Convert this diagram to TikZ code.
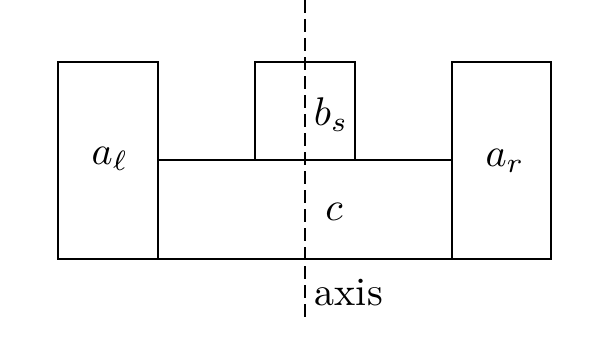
\documentclass[tikz,border=0pt]{standalone}
\begin{document}
\begin{tikzpicture}[x=1pt,y=-1pt,
  wall/.style={line width=2.6pt,line join=miter},
  axisline/.style={line width=2.6pt,dash pattern=on 13pt off 6pt},
  lbl/.style={inner sep=0pt,scale=4}]
\useasboundingbox[fill=white] (0,0) rectangle (601,337);
% left block a_l
\draw[wall] (58,62) rectangle (158,259);
% right block a_r
\draw[wall] (452,62) rectangle (551,259);
% top block b_s
\draw[wall] (255,62) rectangle (355,160);
% middle block c
\draw[wall] (158,160) -- (452,160);
\draw[wall] (158,259) -- (452,259);
% axis
\coordinate (atop) at (305,0);
\coordinate (abot) at (305,318);
\draw[axisline] (atop) -- (abot);
% labels
\node[lbl] (al) at (110,159) {$a_\ell$};
\node[lbl] (ar) at (505,161) {$a_r$};
\node[lbl] (bs) at (331,115) {$b_s$};
\node[lbl] (c) at (334,212) {$c$};
\node[lbl,anchor=base west] (ax) at (314,305) {axis};
\end{tikzpicture}
\end{document}
